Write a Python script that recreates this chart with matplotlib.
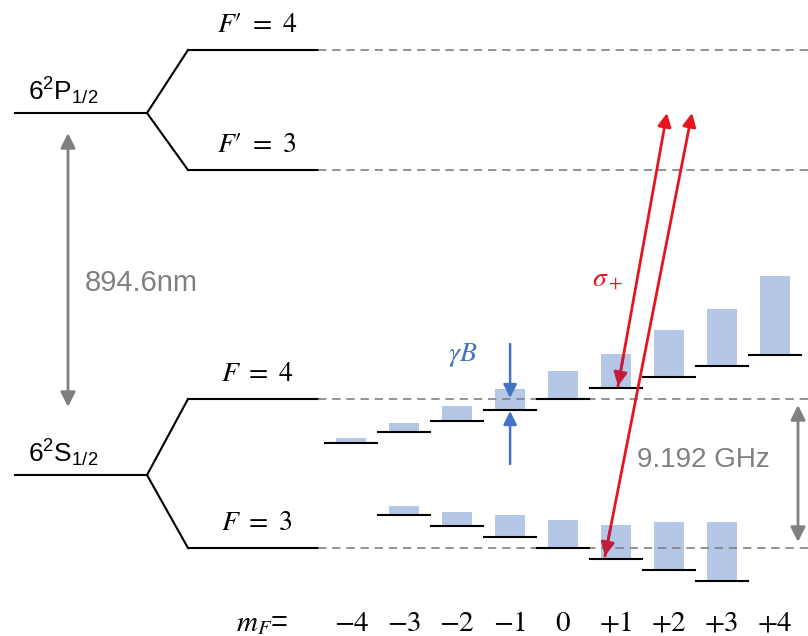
import numpy as np
import matplotlib.pyplot as plt

plt.rcParams['mathtext.fontset'] = 'stix'
plt.rcParams['mathtext.rm'] = 'Liberation Sans'
plt.rcParams['mathtext.it'] = 'Liberation Sans:italic'
plt.rcParams['mathtext.sf'] = 'Liberation Sans'
plt.rcParams['font.family'] = ['Liberation Sans', 'DejaVu Sans']

# data
mf_values = [-4, -3, -2, -1, 0, 1, 2, 3, 4]
mf_labels = ['$-4$', '$-3$', '$-2$', '$-1$', '$0$', '$+1$', '$+2$', '$+3$', '$+4$']
pop_f4 = [5, 9, 15, 21, 28, 34, 47, 57, 79]
pop_f3 = [9, 14, 22, 28, 34, 48, 59]          # mF = -3 .. +3
mf_f3 = [-3, -2, -1, 0, 1, 2, 3]
fine_labels = ['$6^2$P$_{1/2}$', '$6^2$S$_{1/2}$']
hf_labels = ["$F\u2032\\ =\\ 4$", "$F\u2032\\ =\\ 3$", r'$F\ =\ 4$', r'$F\ =\ 3$']
optical_label = '894.6nm'
hfs_label = '9.192 GHz'

black = 'black'
grey = '#808080'
bar_col = '#B4C7E7'
blue = '#4472C4'
red = '#E8141E'
crimson = '#C01E3C'

fig = plt.figure(figsize=(8.08, 6.36), dpi=100)
ax = fig.add_axes([0, 0, 1, 1])
ax.set_xlim(0, 808)
ax.set_ylim(636, 0)
ax.axis('off')

# fine structure levels and hyperfine splitting
y_p, y_s = 113, 475
y_hf = [50, 170, 399, 548]
for y0, (ya, yb), lab in [(y_p, y_hf[0:2], fine_labels[0]), (y_s, y_hf[2:4], fine_labels[1])]:
    ax.plot([15, 147], [y0, y0], color=black, lw=1.5)
    ax.plot([188, 147, 188], [ya, y0, yb], color=black, lw=1.5, solid_joinstyle='miter')
    ax.text(28, y0 - 6, lab, fontsize=19, math_fontfamily='custom', va='bottom', ha='left')
for y, lab in zip(y_hf, hf_labels):
    ax.plot([188, 318], [y, y], color=black, lw=1.5)
    ax.plot([318, 808], [y, y], color=grey, lw=1.2, ls=(0, (5, 3.5)))
    ax.text(257, y - 12, lab, fontsize=20, ha='center', va='bottom')

# Zeeman sublevels with populations
x0, dx, step = 563, 52.9, 11
for m, p in zip(mf_values, pop_f4):
    xc = x0 + dx * m
    yl = y_hf[2] - step * m
    ax.bar(xc, -p, bottom=yl, width=30, color=bar_col, zorder=1)
    ax.plot([xc - 26, xc + 26], [yl, yl], color=black, lw=1.5, zorder=2)
for m, p in zip(mf_f3, pop_f3):
    xc = x0 + dx * m
    yl = y_hf[3] + step * m
    ax.bar(xc, -p, bottom=yl, width=30, color=bar_col, zorder=1)
    ax.plot([xc - 26, xc + 26], [yl, yl], color=black, lw=1.5, zorder=2)

for m, lab in zip(mf_values, mf_labels):
    ax.text(x0 + dx * m, 623, lab, fontsize=21, ha='center', va='center')
ax.text(262, 623, r'$m_F$=', fontsize=21, ha='center', va='center')

# grey double arrows
ax.annotate('', xy=(68, 133), xytext=(68, 407),
            arrowprops=dict(arrowstyle='<|-|>', color=grey, lw=2, mutation_scale=22, shrinkA=0, shrinkB=0))
ax.text(85, 283, optical_label, fontsize=21, color=grey, va='center', ha='left')
ax.annotate('', xy=(798, 405), xytext=(798, 542),
            arrowprops=dict(arrowstyle='<|-|>', color=grey, lw=2, mutation_scale=22, shrinkA=0, shrinkB=0))
ax.text(637, 460, hfs_label, fontsize=20, color=grey, va='center', ha='left')

# gamma B arrows
xb = x0 - dx
ax.annotate('', xy=(xb, 398), xytext=(xb, 344),
            arrowprops=dict(arrowstyle='-|>', color=blue, lw=1.8, mutation_scale=20, shrinkA=0, shrinkB=0))
ax.annotate('', xy=(xb, 411), xytext=(xb, 464),
            arrowprops=dict(arrowstyle='-|>', color=blue, lw=1.8, mutation_scale=20, shrinkA=0, shrinkB=0))
ax.text(463, 355, r'$\gamma B$', fontsize=20, color=blue, ha='center', va='center')

# sigma+ pumping arrows
for (xa, ya), (xt, yt) in [((618, 386), (667, 113)), ((605, 556), (692, 113))]:
    ax.annotate('', xy=(xt, yt), xytext=(xa, ya),
                arrowprops=dict(arrowstyle='-|>', color=red, lw=2, mutation_scale=20, shrinkA=0, shrinkB=0))
    ux, uy = (xa - xt), (ya - yt)
    n = np.hypot(ux, uy)
    ax.annotate('', xy=(xa, ya), xytext=(xa - 30 * ux / n, ya - 30 * uy / n),
                arrowprops=dict(arrowstyle='-|>', color=crimson, lw=2, mutation_scale=20, shrinkA=0, shrinkB=0))
ax.text(607, 278, r'$\sigma_+$', fontsize=20, color=red, ha='center', va='center')

fig.savefig('out.png', dpi=100)
